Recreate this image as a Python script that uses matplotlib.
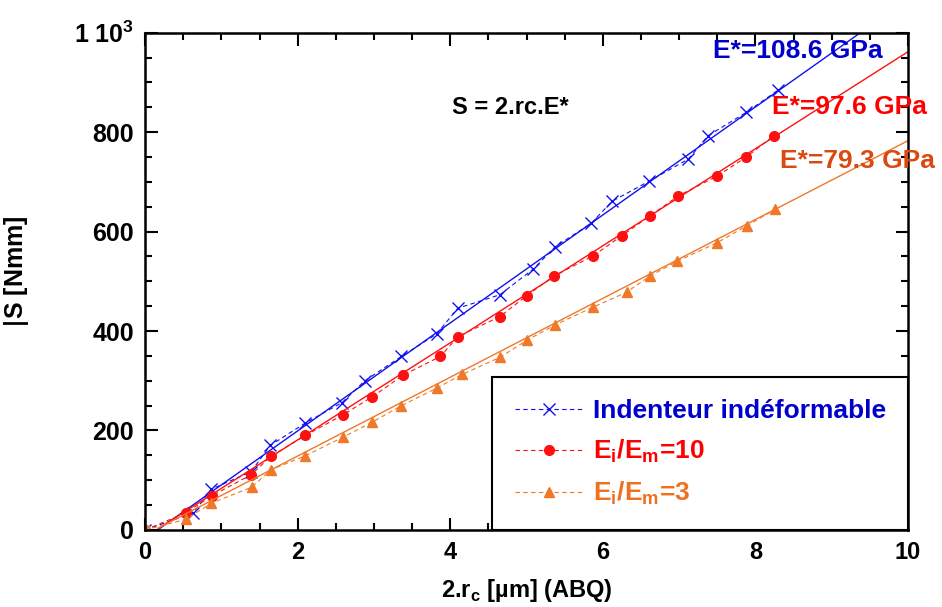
import matplotlib
matplotlib.use("Agg")
import matplotlib.pyplot as plt
import numpy as np
from matplotlib.ticker import MultipleLocator, FixedFormatter, FixedLocator

# data
x_ind = [0, 0.63, 0.87, 1.39, 1.64, 2.1, 2.58, 2.88, 3.36, 3.82, 4.1, 4.65, 5.09, 5.37, 5.85, 6.12, 6.6, 7.12, 7.38, 7.88, 8.3]
s_ind = [0, 34, 82, 117, 170, 215, 256, 300, 349, 394, 446, 473, 525, 569, 617, 661, 701, 746, 793, 840, 885]
x_10 = [0, 0.53, 0.88, 1.39, 1.65, 2.1, 2.59, 2.98, 3.38, 3.87, 4.1, 4.65, 5.0, 5.36, 5.87, 6.25, 6.62, 6.99, 7.5, 7.88, 8.24]
s_10 = [0, 34, 69, 111, 148, 190, 231, 268, 311, 349, 389, 429, 471, 511, 551, 592, 632, 672, 712, 750, 793]
x_3 = [0, 0.53, 0.87, 1.40, 1.65, 2.1, 2.6, 2.98, 3.36, 3.82, 4.16, 4.65, 5.01, 5.37, 5.87, 6.31, 6.62, 6.97, 7.5, 7.89, 8.26]
s_3 = [0, 21, 54, 86, 121, 149, 187, 217, 250, 285, 313, 347, 382, 412, 448, 478, 511, 540, 578, 612, 645]

# linear fits S = E* . 2rc + b
e_star = [108.6, 97.6, 79.3]
fit_b = [-18, -14, -10]
fit_x = [0.17, 10.0]

blue_l, red_l, orange_l = "#1010F0", "#FF1010", "#F07828"
blue_t, red_t, orange_t, orange_a = "#0000CC", "#FF0000", "#F07020", "#D84A10"

plt.rcParams['font.family'] = ['Liberation Sans', 'DejaVu Sans']
plt.rcParams['font.weight'] = 'bold'

fig = plt.figure(figsize=(9.42, 6.07), dpi=100)
ax = fig.add_axes([0.154, 0.127, 0.810, 0.819])

series = [(x_ind, s_ind, blue_l, 'x', "Indenteur indéformable", blue_t),
          (x_10, s_10, red_l, 'o', "E$_\\mathregular{i}$/E$_\\mathregular{m}$=10", red_t),
          (x_3, s_3, orange_l, '^', "E$_\\mathregular{i}$/E$_\\mathregular{m}$=3", orange_t)]

handles = []
for i, (xs, ss, c, m, lab, tc) in enumerate(series):
    fx = np.array(fit_x)
    ax.plot(fx, e_star[i] * fx + fit_b[i], color=c, lw=1.0)
    h, = ax.plot(xs, ss, color=c, ls=(0, (4, 3)), lw=0.8, marker=m,
                 ms=7 if m != 'x' else 8, mew=1.0, label=lab)
    handles.append(h)

ax.plot([0], [0], 's', color=orange_l, ms=6)

ax.set_xlim(0, 10)
ax.set_ylim(0, 1000)
ax.xaxis.set_major_locator(MultipleLocator(2))
ax.xaxis.set_minor_locator(MultipleLocator(0.5))
ax.yaxis.set_major_locator(FixedLocator([0, 200, 400, 600, 800, 1000]))
ax.yaxis.set_major_formatter(FixedFormatter(["0", "200", "400", "600", "800", "1 10$^\\mathregular{3}$"]))
ax.yaxis.set_minor_locator(MultipleLocator(50))
ax.tick_params(which='both', direction='in', top=True, right=True, width=1.5)
ax.tick_params(which='major', length=9, labelsize=18, pad=8)
ax.tick_params(which='minor', length=5)
for lbl in ax.get_xticklabels():
    lbl.set_fontsize(17)
for sp in ax.spines.values():
    sp.set_linewidth(1.8)

ax.set_xlabel("2.r$_\\mathregular{c}$ [µm] (ABQ)", fontsize=17, fontweight='bold', labelpad=9)
ax.set_ylabel("$|$S [Nmm]", fontsize=18, fontweight='bold')
ax.yaxis.set_label_coords(-0.15, 0.52)

ax.text(0.402, 0.849, "S = 2.rc.E*", transform=ax.transAxes, fontsize=17, fontweight='bold', ha='left', va='center')
ax.text(0.744, 0.964, "E*=108.6 GPa", transform=ax.transAxes, fontsize=19, fontweight='bold',
        color=blue_t, ha='left', va='center', clip_on=False)
ax.text(0.822, 0.851, "E*=97.6 GPa", transform=ax.transAxes, fontsize=19, fontweight='bold',
        color=red_t, ha='left', va='center', clip_on=False)
ax.text(0.832, 0.742, "E*=79.3 GPa", transform=ax.transAxes, fontsize=19, fontweight='bold',
        color=orange_a, ha='left', va='center', clip_on=False)

leg = ax.legend(handles=handles, loc='lower right', bbox_to_anchor=(1.0, 0.0), fontsize=19,
                frameon=True, fancybox=False, edgecolor='black', framealpha=1,
                handlelength=2.6, handletextpad=0.35, borderpad=0.85, labelspacing=0.55,
                borderaxespad=0)
leg.get_frame().set_linewidth(1.5)
for t, s in zip(leg.get_texts(), series):
    t.set_color(s[5])

fig.savefig("out.png", dpi=100)
